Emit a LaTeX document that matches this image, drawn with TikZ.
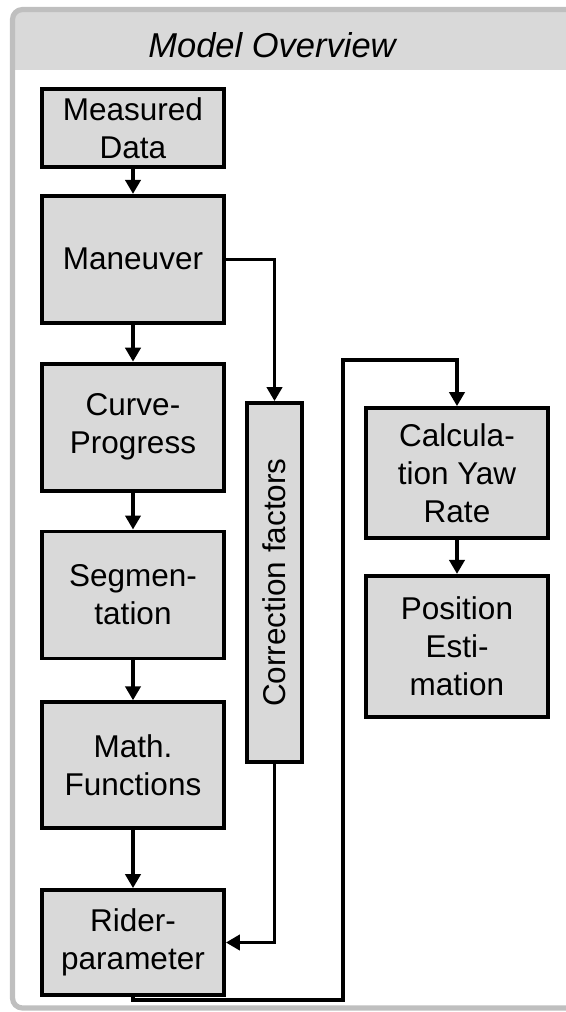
\documentclass[tikz,border=0pt]{standalone}
\usepackage{fontspec}
\setmainfont{Liberation Sans}
\usetikzlibrary{arrows.meta, positioning}
\definecolor{boxgray}{RGB}{217,217,217}
\definecolor{framegray}{RGB}{191,191,191}

\begin{document}
\begin{tikzpicture}[
        x=1pt, y=1pt,
        box/.style={rectangle, draw=black, fill=boxgray, line width=1.9pt,
            minimum width=91pt, inner sep=0pt, align=center,
            font=\fontsize{15.75}{19}\selectfont},
        arrow/.style={line width=1.7pt, -{Triangle[length=7pt,width=7.6pt]}}
    ]
        \useasboundingbox (0,0) rectangle (283,-506);
        \clip (0,0) rectangle (283,-506);
        % frame with header
        \begin{scope}
            \clip[rounded corners=5pt] (6.25,-4.75) rectangle (330,-504);
            \fill[boxgray] (0,0) rectangle (330,-35);
        \end{scope}
        \draw[framegray, line width=2.6pt, rounded corners=5pt] (6.25,-4.75) rectangle (330,-504);
        \node[font=\fontsize{17.25}{20}\selectfont\itshape] (title) at (136,-22.75) {Model Overview};

        \node[box, minimum height=39pt] (meas) at (66.5,-64) {Measured\\Data};
        \node[box, minimum height=63.5pt, below=12.5pt of meas] (man) {Maneuver};
        \node[box, minimum height=63.5pt, below=18.5pt of man] (curve) {Curve-\\Progress};
        \node[box, minimum height=63.5pt, below=18.5pt of curve] (seg) {Segmen-\\tation};
        \node[box, minimum height=63pt, below=20pt of seg] (math) {Math.\\Functions};
        \node[box, minimum height=52.5pt, below=29pt of math] (rider) {Rider-\\parameter};
        \node[box, minimum width=27.5pt, minimum height=179.5pt] (corr) at (137.25,-291.25) {\rotatebox{90}{Correction factors}};
        \node[box, minimum height=65pt] (calc) at (228.5,-236.5) {Calcula-\\tion Yaw\\Rate};
        \node[box, minimum height=70.5pt, below=17pt of calc] (pos) {Position\\Esti-\\mation};

        \coordinate (lowturn) at (171.5,-500);
        \coordinate (highturn) at (171.5,-180);

        \draw[arrow] (meas) -- (man);
        \draw[arrow] (man) -- (curve);
        \draw[arrow] (curve) -- (seg);
        \draw[arrow] (seg) -- (math);
        \draw[arrow] (math) -- (rider);
        \draw[arrow] (man.east) -| (corr.north);
        \draw[arrow] (corr.south) |- (rider.east);
        \draw[arrow] (rider.south) |- (lowturn) -- (highturn) -| (calc.north);
        \draw[arrow] (calc) -- (pos);
\end{tikzpicture}
\end{document}
